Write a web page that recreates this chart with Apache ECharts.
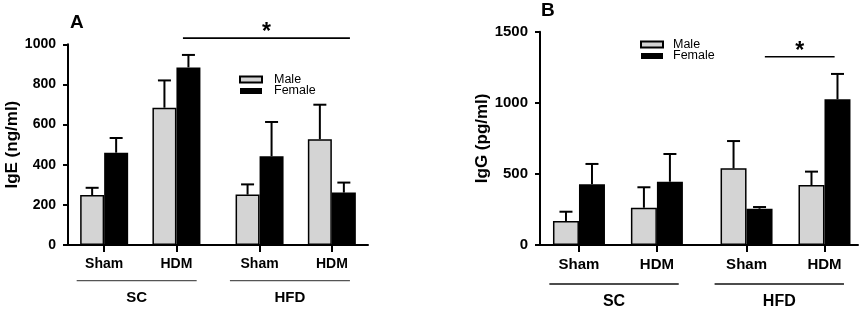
<!DOCTYPE html>
<html>
<head>
<meta charset="utf-8">
<script src="https://cdn.jsdelivr.net/npm/echarts@6/dist/echarts.min.js"></script>
<style>
  html, body { margin: 0; padding: 0; background: #fff; }
  #chart { width: 865px; height: 310px; }
</style>
</head>
<body>
<div id="chart"></div>
<script>
// groups on the x axis
const groups = ['Sham', 'HDM', 'Sham', 'HDM']
const blocks = ['SC', 'HFD']
const sexes = ['Male', 'Female']

// panel A - IgE (ng/ml), mean and SEM
const igeMale = [249, 684, 251, 527]
const igeMaleSem = [36, 136, 51, 172]
const igeFemale = [460, 885, 442, 261]
const igeFemaleSem = [73, 62, 171, 50]

// panel B - IgG (pg/ml), mean and SEM
const iggMale = [169, 262, 539, 422]
const iggMaleSem = [65, 144, 192, 94]
const iggFemale = [427, 445, 255, 1025]
const iggFemaleSem = [143, 195, 12, 178]

// layout along the x axis (gap between SC and HFD)
const groupPos = [1, 2, 3.15, 4.15]
const blockSpan = [[0.62, 2.28], [2.74, 4.4]]
// significance bars: [from, y, to]
const sigA = [2.09, 1031, 4.4]
const sigB = [3.385, 1324, 4.28]

const FONT = 'Liberation Sans, Arial, sans-serif'

function panel(i, cfg) {
  const barW = cfg.barW
  // x轴
  const xAxis = {
    type: 'value',
    gridIndex: i,
    min: 0.5,
    max: cfg.xMax,
    splitLine: { show: false },
    axisLine: { lineStyle: { color: '#000', width: 2 } },
    axisTick: {
      customValues: groupPos,
      length: 7,
      lineStyle: { color: '#000', width: 2 }
    },
    axisLabel: {
      customValues: groupPos,
      margin: 12,
      color: '#000',
      fontFamily: FONT,
      fontWeight: 'bold',
      fontSize: cfg.labelSize,
      formatter: v => {
        const k = groupPos.findIndex(p => Math.abs(p - v) < 1e-6)
        return k >= 0 ? groups[k] : ''
      }
    }
  }
  // y轴
  const yAxis = {
    type: 'value',
    gridIndex: i,
    min: 0,
    max: cfg.yMax,
    interval: cfg.yStep,
    name: cfg.yName,
    nameLocation: 'middle',
    nameGap: cfg.nameGap,
    nameTextStyle: { color: '#000', fontFamily: FONT, fontWeight: 'bold', fontSize: 17 },
    splitLine: { show: false },
    axisLine: { show: true, lineStyle: { color: '#000', width: 2 } },
    axisTick: { show: true, length: 5, lineStyle: { color: '#000', width: 2 } },
    axisLabel: {
      margin: 12,
      color: '#000',
      fontFamily: FONT,
      fontWeight: 'bold',
      fontSize: cfg.labelSize,
      formatter: v => String(v)
    }
  }

  const errData = []
  groupPos.forEach((p, k) => {
    errData.push([p, cfg.male[k], cfg.maleSem[k], -1])
    errData.push([p, cfg.female[k], cfg.femaleSem[k], 1])
  })

  const series = [
    {
      name: sexes[0],
      type: 'bar',
      xAxisIndex: i,
      yAxisIndex: i,
      barWidth: barW,
      barGap: '0%',
      itemStyle: { color: '#d4d4d4', borderColor: '#000', borderWidth: 1.5 },
      data: groupPos.map((p, k) => [p, cfg.male[k]])
    },
    {
      name: sexes[1],
      type: 'bar',
      xAxisIndex: i,
      yAxisIndex: i,
      barWidth: barW,
      barGap: '0%',
      itemStyle: { color: '#000' },
      data: groupPos.map((p, k) => [p, cfg.female[k]])
    },
    // 误差线
    {
      type: 'custom',
      xAxisIndex: i,
      yAxisIndex: i,
      clip: false,
      z: 3,
      data: errData,
      renderItem: (params, api) => {
        const x = api.value(0)
        const mean = api.value(1)
        const sem = api.value(2)
        const side = api.value(3)
        const base = api.coord([x, mean])
        const top = api.coord([x, mean + sem])
        const cx = base[0] + side * barW / 2
        const st = { stroke: '#000', lineWidth: 2 }
        return {
          type: 'group',
          children: [
            { type: 'line', shape: { x1: cx, y1: base[1], x2: cx, y2: top[1] }, style: st },
            { type: 'line', shape: { x1: cx - 6.5, y1: top[1], x2: cx + 6.5, y2: top[1] }, style: st }
          ]
        }
      }
    },
    // SC / HFD
    {
      type: 'custom',
      xAxisIndex: i,
      yAxisIndex: i,
      clip: false,
      data: blockSpan.map(s => [s[0], 0, s[1]]),
      renderItem: (params, api) => {
        const a = api.coord([api.value(0), 0])
        const b = api.coord([api.value(2), 0])
        return {
          type: 'group',
          children: [
            {
              type: 'line',
              shape: { x1: a[0], y1: a[1] + cfg.lineOff, x2: b[0], y2: a[1] + cfg.lineOff },
              style: { stroke: cfg.lineColor, lineWidth: 1.3 }
            },
            {
              type: 'text',
              x: (a[0] + b[0]) / 2,
              y: a[1] + cfg.textOff,
              style: {
                text: blocks[params.dataIndex],
                fill: '#000',
                font: 'bold ' + cfg.blockSize + 'px ' + FONT,
                align: 'center',
                verticalAlign: 'middle'
              }
            }
          ]
        }
      }
    },
    // 显著性
    {
      type: 'custom',
      xAxisIndex: i,
      yAxisIndex: i,
      clip: false,
      data: [cfg.sig],
      renderItem: (params, api) => {
        const a = api.coord([api.value(0), api.value(1)])
        const b = api.coord([api.value(2), api.value(1)])
        return {
          type: 'group',
          children: [
            {
              type: 'line',
              shape: { x1: a[0], y1: a[1], x2: b[0], y2: a[1] },
              style: { stroke: '#000', lineWidth: 1.6 }
            },
            {
              type: 'text',
              x: (a[0] + b[0]) / 2,
              y: a[1] - 5,
              style: {
                text: '*',
                fill: '#000',
                font: 'bold 23px ' + FONT,
                align: 'center',
                verticalAlign: 'middle'
              }
            }
          ]
        }
      }
    }
  ]

  const legend = {
    orient: 'vertical',
    left: cfg.legend[0],
    top: cfg.legend[1],
    padding: 0,
    itemGap: -1.5,
    itemWidth: 22,
    itemHeight: 6,
    icon: 'rect',
    selectedMode: false,
    data: sexes,
    textStyle: {
      color: '#000',
      fontFamily: FONT,
      fontSize: 12.5,
      lineHeight: 10.5,
      padding: [0, 0, 0, cfg.legendPad]
    }
  }

  return { xAxis, yAxis, series, legend }
}

const A = panel(0, {
  male: igeMale, maleSem: igeMaleSem, female: igeFemale, femaleSem: igeFemaleSem,
  barW: 24, xMax: 4.65, yMax: 1000, yStep: 200, yName: 'IgE (ng/ml)', nameGap: 42,
  labelSize: 14, blockSize: 15, lineOff: 35.7, textOff: 52.7, lineColor: '#555',
  sig: sigA, legend: [239, 73], legendPad: 7
})
const B = panel(1, {
  male: iggMale, maleSem: iggMaleSem, female: iggFemale, femaleSem: iggFemaleSem,
  barW: 26, xMax: 4.58, yMax: 1500, yStep: 500, yName: 'IgG (pg/ml)', nameGap: 49,
  labelSize: 15, blockSize: 16, lineOff: 39, textOff: 56.7, lineColor: '#111',
  sig: sigB, legend: [640, 38], legendPad: 5
})

const chart = echarts.init(document.getElementById('chart'))
chart.setOption({
  animation: false,
  backgroundColor: '#fff',
  title: [
    { text: 'A', left: 70, top: 13, padding: 0, textStyle: { color: '#000', fontFamily: FONT, fontWeight: 'bold', fontSize: 19 } },
    { text: 'B', left: 541, top: 1, padding: 0, textStyle: { color: '#000', fontFamily: FONT, fontWeight: 'bold', fontSize: 19 } }
  ],
  grid: [
    { left: 68, top: 44.3, width: 300, height: 200.7 },
    { left: 540, top: 31.7, width: 318, height: 213.3 }
  ],
  legend: [A.legend, B.legend],
  xAxis: [A.xAxis, B.xAxis],
  yAxis: [A.yAxis, B.yAxis],
  series: A.series.concat(B.series)
})
</script>
</body>
</html>
